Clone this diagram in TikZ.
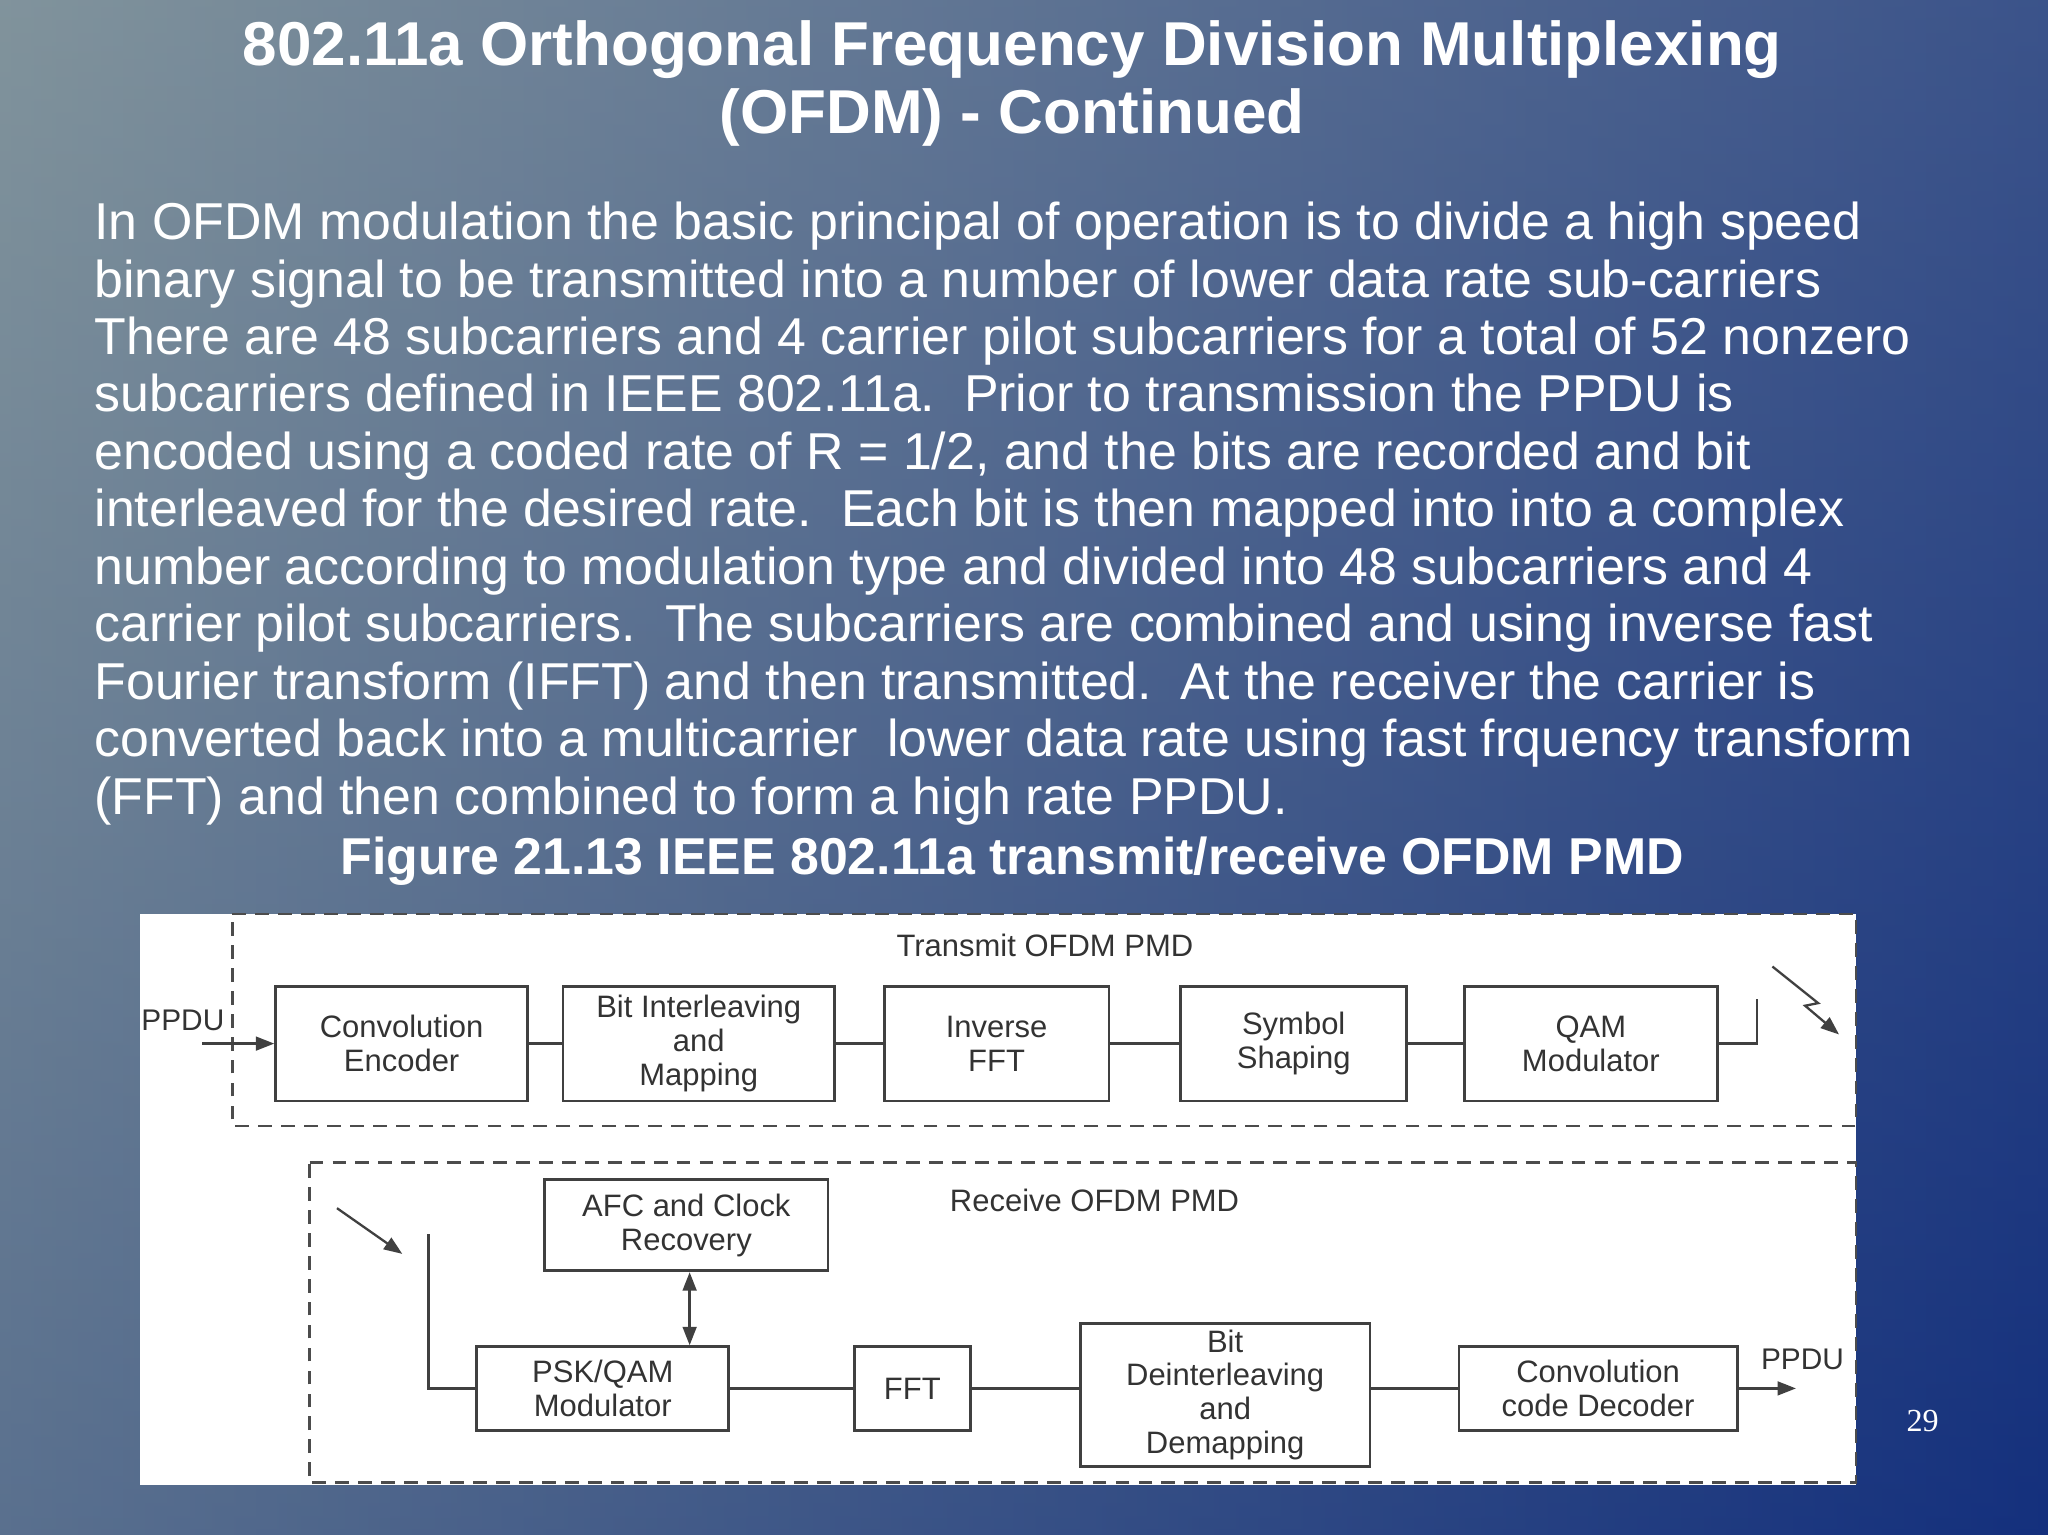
\documentclass[tikz,border=0pt]{standalone}
\usepackage{fontspec}
\setmainfont{Liberation Sans}
\newfontfamily\numfont{Liberation Serif}
\usetikzlibrary{arrows.meta}
\begin{document}
\begin{tikzpicture}[x=0.02cm,y=-0.02cm,
  blk/.style={draw=black!75,line width=1.2pt,fill=white,align=center,font=\fontsize{13.5}{14.8}\selectfont,text=black!80,inner sep=0pt},
  ln/.style={draw=black!75,line width=1pt},
  dsh/.style={draw=black!70,line width=1pt,dash pattern=on 6pt off 4pt},
  body/.style={anchor=west,text=white,font=\fontsize{22.6}{24}\selectfont,inner sep=0pt},
  arr/.style={ln,-{Triangle[length=8pt,width=6pt]}}]
\useasboundingbox (0,0) rectangle (1568,1175);
\shade[left color={rgb,255:red,120;green,140;blue,150},right color={rgb,255:red,20;green,48;blue,125}] (0,0) rectangle (1568,1175);
\shade[top color={rgb,255:red,150;green,165;blue,170},bottom color={rgb,255:red,20;green,48;blue,125},opacity=0.3] (0,0) rectangle (1568,1175);
\node[text=white,font=\bfseries\fontsize{27}{30}\selectfont] (t1) at (775,38) {802.11a Orthogonal Frequency Division Multiplexing};
\node[text=white,font=\bfseries\fontsize{27}{30}\selectfont] (t2) at (775,90) {(OFDM) - Continued};
\foreach \i/\t in {0/{In OFDM modulation the basic principal of operation is to divide a high speed},
1/{binary signal to be transmitted into a number of lower data rate sub-carriers},
2/{There are 48 subcarriers and 4 carrier pilot subcarriers for a total of 52 nonzero},
3/{subcarriers defined in IEEE 802.11a.\ \ Prior to transmission the PPDU is},
4/{encoded using a coded rate of R = 1/2, and the bits are recorded and bit},
5/{interleaved for the desired rate.\ \ Each bit is then mapped into into a complex},
6/{number according to modulation type and divided into 48 subcarriers and 4},
7/{carrier pilot subcarriers.\ \ The subcarriers are combined and using inverse fast},
8/{Fourier transform (IFFT) and then transmitted.\ \ At the receiver the carrier is},
9/{converted back into a multicarrier\ \ lower data rate using fast frquency transform},
10/{(FFT) and then combined to form a high rate PPDU.}}
  \node[body] (b\i) at (72,{175+44*\i}) {\strut\t};
\node[text=white,font=\bfseries\fontsize{22.6}{24}\selectfont] (cap) at (775,659) {Figure 21.13 IEEE 802.11a transmit/receive OFDM PMD};
\node[text=white,font=\numfont\fontsize{14}{16}\selectfont] (num) at (1472,1088) {29};
% diagram
\fill[white] (107,700) rectangle (1421,1137);
\draw[dsh] (178,700) -- (1421,700) -- (1421,862) -- (178,862) -- cycle;
\draw[dsh] (237,890) -- (1421,890) -- (1421,1135) -- (237,1135) -- cycle;
\node[font=\fontsize{13.5}{15}\selectfont,text=black!80] (tl) at (800,724) {Transmit OFDM PMD};
\node[font=\fontsize{13.5}{15}\selectfont,text=black!80] (rl) at (838,919) {Receive OFDM PMD};
\node[blk,minimum width=3.86cm,minimum height=1.76cm] (ce) at (307.5,799) {Convolution\\Encoder};
\node[blk,minimum width=4.16cm,minimum height=1.76cm] (bi) at (535,799) {Bit Interleaving\\and\\Mapping};
\node[blk,minimum width=3.44cm,minimum height=1.76cm] (if) at (763,799) {Inverse\\FFT};
\node[blk,minimum width=3.46cm,minimum height=1.76cm] (ss) at (990.5,799) {Symbol\\Shaping};
\node[blk,minimum width=3.88cm,minimum height=1.76cm] (qm) at (1218,799) {QAM\\Modulator};
\node[font=\fontsize{13}{15}\selectfont,text=black!80] (pin) at (140,781) {PPDU};
\coordinate (ps) at (155,799);
\draw[arr] (ps) -- (ce);
\draw[ln] (ce) -- (bi); \draw[ln] (bi) -- (if); \draw[ln] (if) -- (ss); \draw[ln] (ss) -- (qm);
\coordinate (q1) at (1345,799); \coordinate (q2) at (1345,765);
\draw[ln] (qm.east) -- (q1) -- (q2);
\coordinate (z1) at (1357,740); \coordinate (z2) at (1392,768); \coordinate (z3) at (1382,770); \coordinate (z4) at (1408,792);
\draw[arr] (z1) -- (z2) -- (z3) -- (z4);
% receive
\node[blk,minimum width=4.34cm,minimum height=1.4cm] (afc) at (525.5,938) {AFC and Clock\\Recovery};
\node[blk,minimum width=3.86cm,minimum height=1.28cm] (psk) at (461.5,1063) {PSK/QAM\\Modulator};
\node[blk,minimum width=1.78cm,minimum height=1.28cm] (fft) at (698.5,1063) {FFT};
\node[blk,minimum width=4.44cm,minimum height=2.2cm] (bd) at (938,1068) {Bit\\Deinterleaving\\and\\Demapping};
\node[blk,minimum width=4.26cm,minimum height=1.28cm] (cd) at (1223.5,1063) {Convolution\\code Decoder};
\coordinate (r1) at (258,925); \coordinate (r2) at (308,960);
\draw[arr] (r1) -- (r2);
\coordinate (v1) at (328,945); \coordinate (v2) at (328,1063);
\draw[ln] (v1) -- (v2) -- (psk.west);
\draw[ln,{Triangle[length=8pt,width=6pt]}-{Triangle[length=8pt,width=6pt]}] (afc.south -| 528,0) -- (psk.north -| 528,0);
\draw[ln] (psk) -- (fft); \draw[ln] (fft) -- (bd.west |- fft); \draw[ln] (bd.east |- cd) -- (cd);
\coordinate (pe) at (1375,1063);
\draw[arr] (cd) -- (pe);
\node[font=\fontsize{13}{15}\selectfont,text=black!80] (pout) at (1380,1041) {PPDU};
\end{tikzpicture}
\end{document}
